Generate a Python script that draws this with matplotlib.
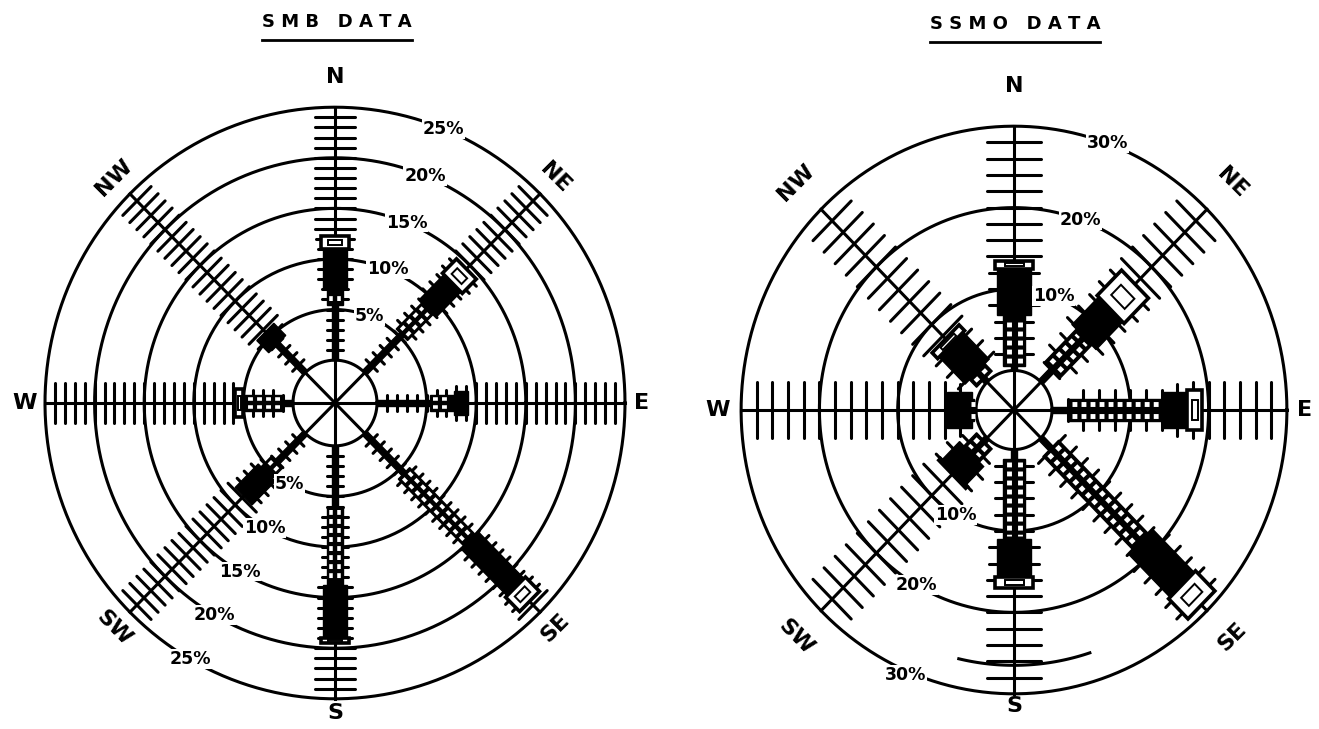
import numpy as np
import matplotlib.pyplot as plt
from matplotlib.patches import Polygon

plt.rcParams['lines.scale_dashes'] = False

directions = ["N", "NE", "E", "SE", "S", "SW", "W", "NW"]
angles = [90, 45, 0, -45, -90, -135, 180, 135]

# cumulative percent at the end of each speed class (thin, lattice, solid, open)
smb_thin = [5.5, 5.3, 5.3, 5.6, 6.0, 4.0, 1.0, 4.0]
smb_lattice = [7.0, 9.0, 7.8, 15.0, 13.8, 5.5, 5.0, 4.0]
smb_solid = [11.0, 12.5, 9.2, 21.5, 19.0, 8.8, 5.0, 5.7]
smb_open = [12.3, 14.5, 9.2, 23.5, 19.5, 8.8, 5.8, 5.7]

ssmo_thin = [0.5, 2.2, 2.2, 1.8, 1.2, 0.5, 0.3, 0.5]
ssmo_lattice = [6.8, 7.8, 14.1, 18.2, 11.0, 2.8, 0.5, 1.8]
ssmo_solid = [12.5, 12.6, 17.3, 25.5, 15.6, 6.0, 3.7, 6.5]
ssmo_open = [13.5, 17.0, 19.2, 29.0, 17.0, 6.3, 3.7, 7.5]

smb_rings = [5, 10, 15, 20, 25]
ssmo_rings = [10, 20, 30]
smb_upper_labels = ["5%", "10%", "15%", "20%", "25%"]
smb_lower_labels = ["5%", "10%", "15%", "20%", "25%"]
ssmo_upper_labels = ["10%", "20%", "30%"]
ssmo_lower_labels = ["10%", "20%", "30%"]

# panel geometry in pixels
smb = dict(cx=335, cy=403, r0=42, k=9.92, sy=1.02, outer=25, step=1,
           w=(6, 16, 24, 28), extra=5, tick=20,
           lab_off={"N": 30, "S": 14, "E": 17, "W": 20, "diag": 22})
ssmo = dict(cx=1014, cy=410, r0=38, k=7.83, sy=1.04, outer=30, step=2,
            w=(6, 22, 34, 38), extra=8, tick=27,
            lab_off={"N": 40, "S": 12, "E": 18, "W": 24, "diag": 36})


def rad(P, p):
    return P["r0"] + P["k"] * np.asarray(p, dtype=float)


def pt(P, ang, r, off=0.0):
    a = np.deg2rad(ang)
    x = P["cx"] + r * np.cos(a) - off * np.sin(a)
    y = P["cy"] - (r * np.sin(a) + off * np.cos(a)) * P["sy"]
    return x, y


def seg_poly(P, ang, p1, p2, w):
    r1, r2 = rad(P, p1), rad(P, p2)
    return [pt(P, ang, r1, -w / 2), pt(P, ang, r2, -w / 2),
            pt(P, ang, r2, w / 2), pt(P, ang, r1, w / 2)]


def draw_rose(ax, P, thin, lattice, solid, opn, rings):
    t = np.linspace(0, 2 * np.pi, 400)
    # calm circle and percent rings
    for r in [P["r0"]] + list(rad(P, rings)):
        ax.plot(P["cx"] + r * np.cos(t), P["cy"] - P["sy"] * r * np.sin(t),
                color="black", lw=2.2, zorder=2)
    outer_r = rad(P, P["outer"])
    for i, ang in enumerate(angles):
        x0, y0 = pt(P, ang, 0)
        x1, y1 = pt(P, ang, outer_r)
        ax.plot([x0, x1], [y0, y1], color="black", lw=2.2, zorder=2)
        ends = [thin[i], lattice[i], solid[i], opn[i]]
        # cross ticks along the spoke
        for p in np.arange(P["step"], P["outer"], P["step"]):
            if p <= ends[3]:
                cls = int(np.searchsorted(ends, p))
                half = P["w"][min(cls, 3)] / 2 + P["extra"]
            else:
                half = P["tick"]
            r = rad(P, p)
            xa, ya = pt(P, ang, r, -half)
            xb, yb = pt(P, ang, r, half)
            ax.plot([xa, xb], [ya, yb], color="black", lw=2.2,
                    solid_capstyle="round", zorder=3)
        # speed class bars
        starts = [0, thin[i], lattice[i], solid[i]]
        for c in range(4):
            p1, p2 = starts[c], ends[c]
            if p2 - p1 <= 0.05:
                continue
            w = P["w"][c]
            poly = seg_poly(P, ang, p1, p2, w)
            if c == 3:
                ax.add_patch(Polygon(poly, closed=True, facecolor="white",
                                     edgecolor="black", lw=2.6, zorder=4))
                slot = seg_poly(P, ang, p1 + 0.3 * (p2 - p1), p2 - 0.3 * (p2 - p1), w * 0.5)
                ax.add_patch(Polygon(slot, closed=True, facecolor="white",
                                     edgecolor="black", lw=1.4, zorder=4))
            else:
                ax.add_patch(Polygon(poly, closed=True, facecolor="black",
                                     edgecolor="black", lw=1, zorder=4))
            if c == 1:
                for off in (-w / 4, w / 4):
                    xa, ya = pt(P, ang, rad(P, p1) + 3, off)
                    xb, yb = pt(P, ang, rad(P, p2) - 3, off)
                    ax.plot([xa, xb], [ya, yb], color="white", lw=w * 0.16,
                            dashes=(3.5, 3.0), solid_capstyle="butt", zorder=5)


def ring_labels(ax, P, pcts, labels, ang, dr=0):
    for p, lab in zip(pcts, labels):
        x, y = pt(P, ang, rad(P, p) + dr)
        ax.text(x, y, lab, ha="center", va="center", fontsize=12.5,
                fontweight="bold", zorder=6,
                bbox=dict(facecolor="white", edgecolor="none", pad=0.6))


def compass_labels(ax, P):
    rot = {"N": 0, "NE": -45, "E": 0, "SE": 45, "S": 0, "SW": -45, "W": 0, "NW": 45}
    outer_r = rad(P, P["outer"])
    for d, ang in zip(directions, angles):
        key = d if d in ("N", "S", "E", "W") else "diag"
        off = P["lab_off"][key]
        if key in ("N", "S"):
            x, y = pt(P, ang, outer_r)
            y = y + (off if d == "S" else -off)
        else:
            x, y = pt(P, ang, outer_r + off)
        ax.text(x, y, d, ha="center", va="center", fontsize=16,
                fontweight="bold", rotation=rot[d])


fig = plt.figure(figsize=(13.19, 7.29), dpi=100)
ax = fig.add_axes([0, 0, 1, 1])
ax.set_xlim(0, 1319)
ax.set_ylim(729, 0)
ax.axis("off")

draw_rose(ax, smb, smb_thin, smb_lattice, smb_solid, smb_open, smb_rings)
draw_rose(ax, ssmo, ssmo_thin, ssmo_lattice, ssmo_solid, ssmo_open, ssmo_rings)

# stray partial ring on the SSMO rose
tt = np.deg2rad(np.linspace(-103, -72, 60))
rp = rad(ssmo, 26.5)
ax.plot(ssmo["cx"] + rp * np.cos(tt), ssmo["cy"] - ssmo["sy"] * rp * np.sin(tt),
        color="black", lw=2.2, zorder=2)

ring_labels(ax, smb, smb_rings, smb_upper_labels, 68)
ring_labels(ax, smb, smb_rings, smb_lower_labels, -120)
ring_labels(ax, ssmo, ssmo_rings, ssmo_upper_labels, 70)
ring_labels(ax, ssmo, ssmo_rings[:2], ssmo_lower_labels[:2], -120)
ring_labels(ax, ssmo, ssmo_rings[2:], ssmo_lower_labels[2:], -113, dr=4)

compass_labels(ax, smb)
compass_labels(ax, ssmo)

# titles
ax.text(337, 22, "S M B   D A T A", ha="center", va="center",
        fontsize=13, fontweight="bold")
ax.plot([262, 412], [40, 40], color="black", lw=2)
ax.text(1015, 24, "S S M O   D A T A", ha="center", va="center",
        fontsize=13, fontweight="bold")
ax.plot([930, 1100], [42, 42], color="black", lw=2)

fig.savefig("out.png", dpi=100, facecolor="white")
